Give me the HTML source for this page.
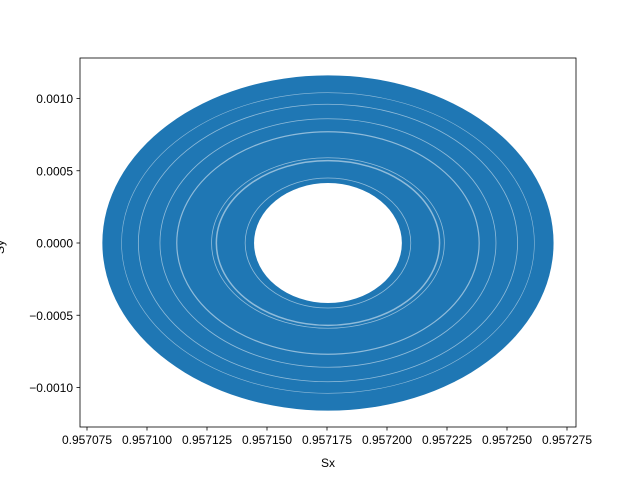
<!DOCTYPE html>
<html><head><meta charset="utf-8"><style>
body{margin:0;background:#fff;}
svg{font-family:"Liberation Sans","DejaVu Sans",sans-serif;}
</style></head><body>
<svg id="chart" width="640" height="480">
<rect width="640" height="480" fill="#fff"/>
<g id="plot"></g>
<rect x="80" y="58" width="496" height="369" fill="none" stroke="#000" stroke-width="0.8"/>
<g id="xt"></g>
<g id="yt"></g>
<text x="328" y="467" text-anchor="middle" font-size="12">Sx</text>
<text x="0" y="243" text-anchor="middle" font-size="12" transform="rotate(-90 4 243)">Sy</text>
</svg>
<script>
const centerX = 0.9571754;
const centerY = 0.0;
const outerRx = 0.0000940, outerRy = 0.00116;
const innerRx = 0.0000308, innerRy = 0.000415;
// white gap rings (semi-axes in data units)
const gapRx = [0.0000345, 0.0000465, 0.0000485, 0.000063, 0.000070, 0.000079, 0.000086];
const gapRy = [0.00045, 0.00057, 0.00059, 0.00077, 0.00086, 0.00096, 0.00104];
const gapW = [0.8, 1.5, 0.8, 1.2, 0.8, 0.8, 0.6];
const xTicks = [0.957075,0.9571,0.957125,0.95715,0.957175,0.9572,0.957225,0.95725,0.957275];
const xLabels = ["0.957075","0.957100","0.957125","0.957150","0.957175","0.957200","0.957225","0.957250","0.957275"];
const yTicks = [0.001,0.0005,0,-0.0005,-0.001];
const yLabels = ["0.0010","0.0005","0.0000","\u22120.0005","\u22120.0010"];
const sx = v => 87 + (v - 0.957075) / 0.000025 * 60;
const sy = v => 243 - v / 0.001 * 144.5;
const kx = 60/0.000025, ky = 144.5/0.001;
const NS="http://www.w3.org/2000/svg";
function mk(t,a,p){const e=document.createElementNS(NS,t);for(const k in a)e.setAttribute(k,a[k]);p.appendChild(e);return e;}
const plot=document.getElementById('plot');
const cx=sx(centerX), cy=sy(centerY);
const o=mk('ellipse',{cx,cy,rx:outerRx*kx,ry:outerRy*ky,fill:'#1f77b4'},plot);


const i=mk('ellipse',{cx,cy,rx:innerRx*kx,ry:innerRy*ky,fill:'#fff'},plot);


gapRx.forEach((r,k)=>{
 const g=mk('ellipse',{cx,cy,rx:r*kx,ry:gapRy[k]*ky,fill:'none',stroke:'#fff','stroke-width':gapW[k],'stroke-opacity':0.5},plot);
 
 
});
const xt=document.getElementById('xt');
xTicks.forEach((v,k)=>{const x=sx(v);
 const l=mk('line',{x1:x,x2:x,y1:427,y2:430.5,stroke:'#000','stroke-width':0.8},xt);
 
 
 const t=mk('text',{x:x,y:444,'text-anchor':'middle','font-size':12},xt);t.textContent=xLabels[k];
 
 
});
const yt=document.getElementById('yt');
yTicks.forEach((v,k)=>{const y=sy(v);
 const l=mk('line',{x1:76.5,x2:80,y1:y,y2:y,stroke:'#000','stroke-width':0.8},yt);
 
 
 const t=mk('text',{x:73,y:y+4.5,'text-anchor':'end','font-size':12},yt);t.textContent=yLabels[k];
 
 
});
</script>
</body></html>
